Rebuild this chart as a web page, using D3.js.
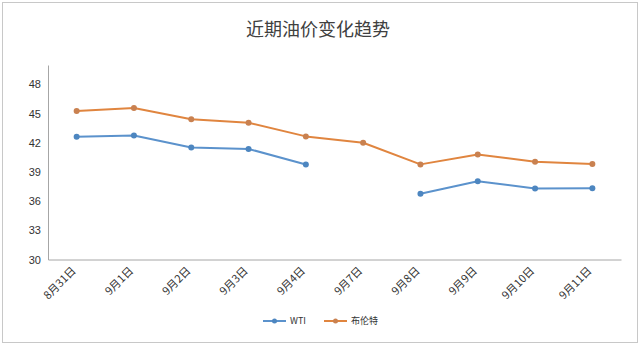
<!DOCTYPE html>
<html>
<head>
<meta charset="utf-8">
<script src="https://cdn.jsdelivr.net/npm/d3@7"></script>
<style>
  html, body { margin: 0; padding: 0; background: #fff; }
  svg { display: block; }
</style>
</head>
<body>
<svg id="chart" width="640" height="345"></svg>
<script>
// Trading days shown on the x axis
const dates = ["8月31日", "9月1日", "9月2日", "9月3日", "9月4日", "9月7日", "9月8日", "9月9日", "9月10日", "9月11日"];
// WTI closes (no settlement on 9月7日)
const wti = [42.61, 42.76, 41.51, 41.37, 39.77, null, 36.76, 38.05, 37.30, 37.33];
// Brent closes
const brent = [45.28, 45.58, 44.43, 44.07, 42.66, 42.01, 39.78, 40.79, 40.06, 39.83];
// Y axis ticks
const yTicks = [30, 33, 36, 39, 42, 45, 48];
const seriesNames = ["WTI", "布伦特"];

const svg = d3.select("#chart");
const W = 640, H = 345;
const plotLeft = 48, plotRight = 621, plotTop = 65, plotBottom = 259.5;

// Chart frame
svg.append("rect")
  .attr("x", 2.5).attr("y", 2.5)
  .attr("width", W - 5).attr("height", H - 5)
  .attr("fill", "#fff")
  .attr("stroke", "#c8c8c8").attr("stroke-width", 1);

// Title
svg.append("text")
  .attr("x", 318).attr("y", 36)
  .attr("text-anchor", "middle")
  .attr("font-family", "'Noto Sans CJK SC', sans-serif")
  .attr("font-size", 18)
  .attr("fill", "#404040")
  .text("近期油价变化趋势");

const x = d3.scaleBand().domain(dates).range([plotLeft, plotRight]);
const y = d3.scaleLinear().domain([30, 50]).range([plotBottom, plotTop]);

// Y axis
const yAxis = svg.append("g")
  .attr("transform", `translate(${plotLeft},0)`)
  .call(d3.axisLeft(y).tickValues(yTicks).tickSize(0).tickSizeOuter(0).tickPadding(7));
yAxis.select(".domain").attr("stroke", "#a6a6a6");
yAxis.selectAll("text")
  .attr("font-family", "'Liberation Sans', Arial, sans-serif")
  .attr("font-size", 11)
  .attr("fill", "#333");

// X axis
const xAxis = svg.append("g")
  .attr("transform", `translate(0,${plotBottom})`)
  .call(d3.axisBottom(x).tickSize(0).tickSizeOuter(0).tickPadding(0));
xAxis.select(".domain").attr("stroke", "#a6a6a6");
xAxis.selectAll("text")
  .attr("font-family", "'Noto Sans CJK SC', sans-serif")
  .attr("font-size", 11)
  .attr("fill", "#333")
  .attr("text-anchor", "end")
  .attr("dy", null)
  .attr("y", 0)
  .attr("transform", "translate(0,12) rotate(-45)");

const colors = ["#5b92cc", "#e0853f"];
const markerColors = ["#4d86c0", "#c98150"];
const series = [wti, brent];

const line = d3.line()
  .defined(d => d != null)
  .x((d, i) => x(dates[i]) + x.bandwidth() / 2)
  .y(d => y(d));

series.forEach((vals, s) => {
  svg.append("path")
    .datum(vals)
    .attr("fill", "none")
    .attr("stroke", colors[s])
    .attr("stroke-width", 2)
    .attr("stroke-linejoin", "round")
    .attr("d", line);
  svg.append("g").selectAll("circle")
    .data(vals.map((v, i) => ({ v, i })).filter(d => d.v != null))
    .join("circle")
    .attr("cx", d => x(dates[d.i]) + x.bandwidth() / 2)
    .attr("cy", d => y(d.v))
    .attr("r", 3)
    .attr("fill", markerColors[s]);
});

// Legend
const legendX = [263, 324];
seriesNames.forEach((name, s) => {
  const g = svg.append("g").attr("transform", `translate(${legendX[s]},321)`);
  g.append("line")
    .attr("x1", 0).attr("x2", 23)
    .attr("stroke", colors[s]).attr("stroke-width", 2);
  g.append("circle").attr("cx", 11.5).attr("r", 2.5).attr("fill", markerColors[s]);
  g.append("text")
    .attr("x", 27).attr("y", 3)
    .attr("font-family", "'Noto Sans CJK SC', sans-serif")
    .attr("font-size", 9)
    .attr("fill", "#333")
    .text(name);
});
</script>
</body>
</html>
